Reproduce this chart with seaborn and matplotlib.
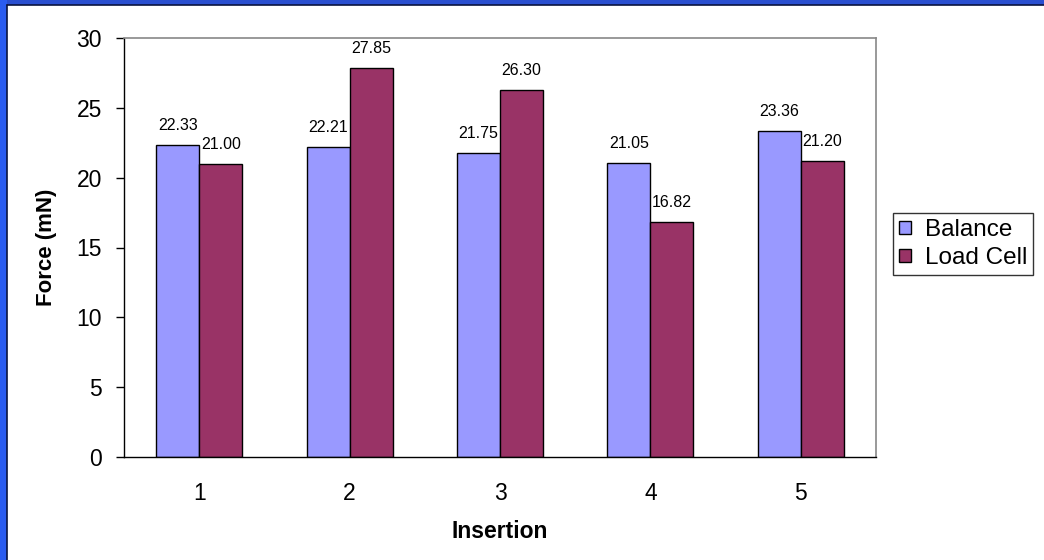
import matplotlib
matplotlib.use("Agg")
import matplotlib.pyplot as plt
from matplotlib.patches import Rectangle, Patch
import seaborn as sns
import pandas as pd

insertions = ["1", "2", "3", "4", "5"]
balance = [22.33, 22.21, 21.75, 21.05, 23.36]
load_cell = [21.00, 27.85, 26.30, 16.82, 21.20]
series_names = ["Balance", "Load Cell"]
y_ticks = [0, 5, 10, 15, 20, 25, 30]

colors = {"Balance": "#9999FF", "Load Cell": "#993366"}

df = pd.DataFrame({
    "Insertion": insertions * 2,
    "Force": balance + load_cell,
    "Series": [series_names[0]] * len(insertions) + [series_names[1]] * len(insertions),
})

sns.set_theme(style="white")
plt.rcParams["font.family"] = ["Liberation Sans", "DejaVu Sans"]
plt.rcParams["text.color"] = "black"
plt.rcParams["axes.labelcolor"] = "black"
plt.rcParams["xtick.color"] = "black"
plt.rcParams["ytick.color"] = "black"

fig = plt.figure(figsize=(10.44, 5.6), dpi=100)
fig.patch.set_facecolor("white")

# Blue frame along the top and left edges
fig.patches.append(Rectangle((0, 1 - 5 / 560), 1, 5 / 560, transform=fig.transFigure,
                             facecolor="#2a4fd0", edgecolor="none", zorder=0))
fig.patches.append(Rectangle((0, 0), 7 / 1044, 1, transform=fig.transFigure,
                             facecolor="#2a5cf0", edgecolor="none", zorder=0))
fig.add_artist(plt.Line2D([7 / 1044, 7 / 1044], [0, 1 - 5 / 560], transform=fig.transFigure,
                          color="#0a1440", lw=1.2))
fig.add_artist(plt.Line2D([7 / 1044, 1], [1 - 5 / 560, 1 - 5 / 560], transform=fig.transFigure,
                          color="#0a1440", lw=1.2))

ax = fig.add_axes([124 / 1044, 1 - 457 / 560, (876 - 124) / 1044, (457 - 38) / 560])

sns.barplot(data=df, x="Insertion", y="Force", hue="Series", palette=colors,
            width=0.572, gap=0, saturation=1, edgecolor="black", linewidth=1.0,
            errorbar=None, ax=ax, legend=False)

for container in ax.containers:
    for bar in container:
        h = bar.get_height()
        ax.annotate(f"{h:.2f}", (bar.get_x() + bar.get_width() / 2, h),
                    xytext=(0, 14), textcoords="offset points",
                    ha="center", va="center", fontsize=11.5, color="black")

ax.set_xlim(-0.5, len(insertions) - 0.5)
ax.set_ylim(0, 30)
ax.set_yticks(y_ticks)
ax.set_yticklabels([str(t) for t in y_ticks], fontsize=16.5)
ax.set_xticks(range(len(insertions)))
ax.set_xticklabels(insertions, fontsize=16.5)
ax.set_xticks([i - 0.5 for i in range(len(insertions) + 1)], minor=True)
ax.tick_params(axis="x", which="major", length=0, pad=18)
ax.tick_params(axis="x", which="minor", length=6, width=1, color="black", direction="out")
ax.tick_params(axis="y", length=6, width=1, color="black", direction="out", pad=10, left=True)

for side in ["left", "bottom"]:
    ax.spines[side].set_color("black")
    ax.spines[side].set_linewidth(1.0)
for side in ["top", "right"]:
    ax.spines[side].set_color("#888888")
    ax.spines[side].set_linewidth(1.2)

ax.set_xlabel("Insertion", fontsize=16.5, fontweight="bold", labelpad=11)
ax.set_ylabel("Force (mN)", fontsize=16, fontweight="bold", labelpad=14)

handles = [Patch(facecolor=colors[s], edgecolor="black", linewidth=1.0, label=s) for s in series_names]
leg = fig.legend(handles=handles, loc="upper left", bbox_to_anchor=(893 / 1044, 1 - 213 / 560),
                 frameon=True, fancybox=False, fontsize=17.5, handlelength=0.5, handleheight=0.5,
                 handletextpad=0.55, borderpad=0.25, labelspacing=0.25, borderaxespad=0)
leg.get_frame().set_edgecolor("black")
leg.get_frame().set_linewidth(1.0)

fig.savefig("out.png", dpi=100, facecolor="white")
